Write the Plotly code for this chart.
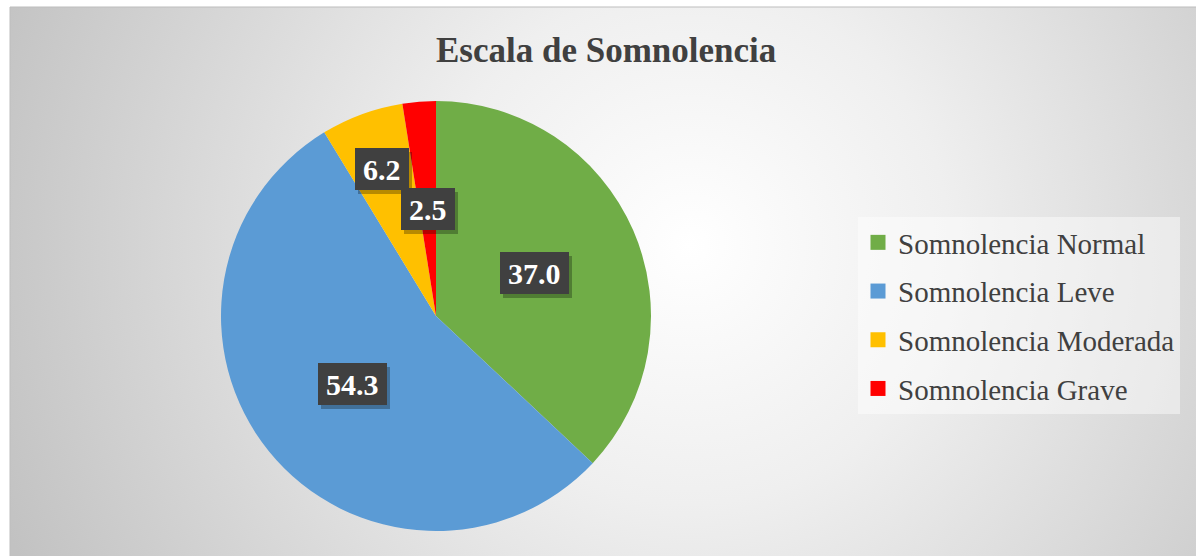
import base64
import math
import plotly.graph_objects as go

# ---------------- data ----------------
categories = ["Somnolencia Normal", "Somnolencia Leve", "Somnolencia Moderada", "Somnolencia Grave"]
values = [37.0, 54.3, 6.2, 2.5]
colors = ["#70AD47", "#5B9BD5", "#FFC000", "#FF0000"]
label_radius_frac = [0.5, 0.5, 0.73, 0.5]
title_text = "Escala de Somnolencia"

# ---------------- layout constants ----------------
W, H = 1196, 556
FONT = "Times New Roman, Liberation Serif, serif"
TXT = "#404040"

# pie geometry in pixels
pie_left, pie_right, pie_top, pie_bottom = 221, 651, 101, 531
cx = (pie_left + pie_right) / 2
cy = (pie_top + pie_bottom) / 2
R = (pie_right - pie_left) / 2

fig = go.Figure()

fig.add_trace(go.Pie(
    labels=categories,
    values=values,
    marker=dict(colors=colors, line=dict(width=0)),
    sort=False,
    direction="clockwise",
    rotation=0,
    textinfo="none",
    hoverinfo="label+value",
    showlegend=False,
    domain=dict(x=[pie_left / W, pie_right / W], y=[1 - pie_bottom / H, 1 - pie_top / H]),
))

# legend entries (one group each so spacing can be controlled)
for name, col in zip(categories, colors):
    fig.add_trace(go.Scatter(
        x=[None], y=[None], mode="markers", name=name,
        marker=dict(symbol="square", size=15, color=col),
        legendgroup=name, showlegend=True,
    ))

# data labels computed from slice mid-angles
annotations = []
total = sum(values)
cum = 0.0
LFS = 30
for v, f in zip(values, label_radius_frac):
    mid = (cum + v / 2) / total * 2 * math.pi
    cum += v
    px = cx + f * R * math.sin(mid)
    py = cy - f * R * math.cos(mid)
    txt = f"{v:.1f}"
    tw = sum(0.25 if ch == "." else 0.5 for ch in txt) * LFS
    common = dict(xref="paper", yref="paper", x=px / W, y=1 - py / H,
                  xanchor="center", yanchor="middle", showarrow=False,
                  width=tw + 8, height=34, borderpad=4, borderwidth=0)
    annotations.append(dict(text="", bgcolor="rgba(0,0,0,0.28)", xshift=3, yshift=-4, **common))
    annotations.append(dict(text=f"<b>{txt}</b>", bgcolor="#404040",
                            font=dict(family=FONT, size=LFS, color="white"), **common))

# title
annotations.append(dict(text=f"<b>{title_text}</b>", xref="paper", yref="paper",
                        x=606 / W, y=1 - 50 / H, xanchor="center", yanchor="middle",
                        showarrow=False, font=dict(family=FONT, size=35, color=TXT)))

# radial gradient background as an SVG image
bx0, by0 = 10, 7
bw, bh = W - bx0, H - by0
svg = (f'<svg xmlns="http://www.w3.org/2000/svg" width="{bw}" height="{bh}">'
       f'<defs><radialGradient id="g" gradientUnits="userSpaceOnUse" cx="{690 - bx0}" cy="{245 - by0}" r="740">'
       '<stop offset="0" stop-color="#ffffff"/><stop offset="0.35" stop-color="#efefef"/>'
       '<stop offset="1" stop-color="#c2c2c2"/></radialGradient></defs>'
       f'<rect x="0" y="0" width="{bw}" height="{bh}" fill="url(#g)"/></svg>')
src = "data:image/svg+xml;base64," + base64.b64encode(svg.encode()).decode()

fig.update_layout(
    width=W, height=H,
    margin=dict(l=0, r=0, t=0, b=0),
    paper_bgcolor="white",
    plot_bgcolor="rgba(0,0,0,0)",
    xaxis=dict(visible=False),
    yaxis=dict(visible=False),
    images=[dict(source=src, xref="paper", yref="paper", x=bx0 / W, y=1 - by0 / H,
                 sizex=bw / W, sizey=bh / H, xanchor="left", yanchor="top",
                 sizing="stretch", layer="below")],
    shapes=[dict(type="rect", xref="paper", yref="paper", x0=bx0 / W, y0=-0.01,
                 x1=1.01, y1=1 - by0 / H, line=dict(color="#bdbdbd", width=1),
                 fillcolor="rgba(0,0,0,0)", layer="below")],
    legend=dict(x=858 / W, y=1 - 217 / H, xanchor="left", yanchor="top",
                bgcolor="rgba(255,255,255,0.45)", borderwidth=0,
                font=dict(family=FONT, size=29, color=TXT),
                tracegroupgap=8, itemclick=False, itemdoubleclick=False),
    annotations=annotations,
    showlegend=True,
)

fig.write_html("out.html")
